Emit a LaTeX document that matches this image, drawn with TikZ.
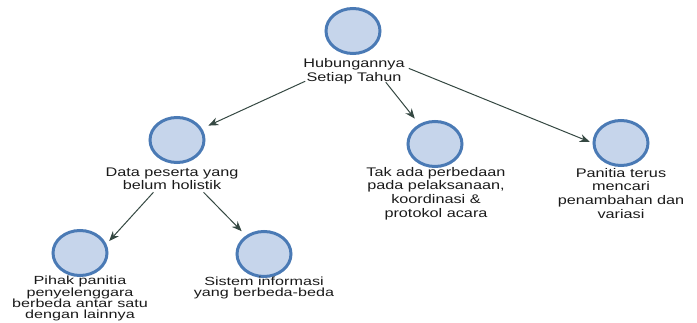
\documentclass[tikz,border=0pt]{standalone}
\usepackage{fontspec}
\setmainfont{Liberation Sans}[FakeStretch=1.3]
\newfontfamily\lowrowfont{Liberation Sans}[FakeStretch=1.37]
\usetikzlibrary{shapes.geometric,arrows.meta,calc}

\definecolor{bubblefill}{HTML}{C6D5EB}
\definecolor{bubbleline}{HTML}{4A7AB5}
\definecolor{linkcol}{HTML}{354842}
\definecolor{captxt}{HTML}{1A1A1A}

\begin{document}
\begin{tikzpicture}[x=1pt,y=-1pt,
  bubble/.style={ellipse, draw=bubbleline, fill=bubblefill, line width=3pt,
    minimum width=54pt, minimum height=45pt, inner sep=0pt},
  caption/.style={anchor=north, align=center, inner sep=0pt, text=captxt,
    font=\fontsize{12.5}{13.7}\selectfont},
  tightcap/.style={font=\lowrowfont\fontsize{11.8}{11.4}\selectfont},
  link/.style={draw=linkcol, line width=1pt, -{Stealth[length=10pt,width=8pt]},
    shorten >=7pt}
]
\useasboundingbox (0,0) rectangle (697,323);

% bubbles
\node[bubble] (top) at (353,31) {};
\node[bubble] (data) at (177,140) {};
\node[bubble] (tak) at (435,144) {};
\node[bubble] (pan) at (621,143) {};
\node[bubble] (pihak) at (80,253) {};
\node[bubble] (sis) at (264,254) {};

% captions
\node[caption] (toplbl) at (354,58.5) {Hubungannya\\Setiap Tahun};
\node[caption] (datalbl) at (172,167.5) {Data peserta yang\\belum holistik};
\node[caption] (taklbl) at (436,167) {Tak ada perbedaan\\pada pelaksanaan,\\koordinasi \&\\protokol acara};
\node[caption] (panlbl) at (621,168) {Panitia terus\\mencari\\penambahan dan\\variasi};
\node[caption,tightcap] (pihaklbl) at (80,276) {Pihak panitia\\penyelenggara\\berbeda antar satu\\dengan lainnya};
\node[caption,tightcap] (sislbl) at (264,276.5) {Sistem informasi\\yang berbeda-beda};

% connector start points under the captions
\coordinate (o1) at ($(toplbl.south west)+(2,-3)$);
\coordinate (o2) at ($(toplbl.south east)+(-19,-2)$);
\coordinate (o3) at ($(toplbl.east)+(4,-3)$);
\coordinate (o4) at ($(datalbl.south west)+(48,2)$);
\coordinate (o5) at ($(datalbl.south east)+(-35,2)$);
% arrow tip beside the lower left bubble
\coordinate (pihakin) at ($(pihak.north east)+(9,5)$);

\draw[link] (o1) -- (data);
\draw[link] (o2) -- (tak);
\draw[link,shorten >=3pt] (o3) -- (pan.west);
\draw[link,shorten >=0pt] (o4) -- (pihakin);
\draw[link,shorten >=6pt] (o5) -- (sis);
\end{tikzpicture}
\end{document}
